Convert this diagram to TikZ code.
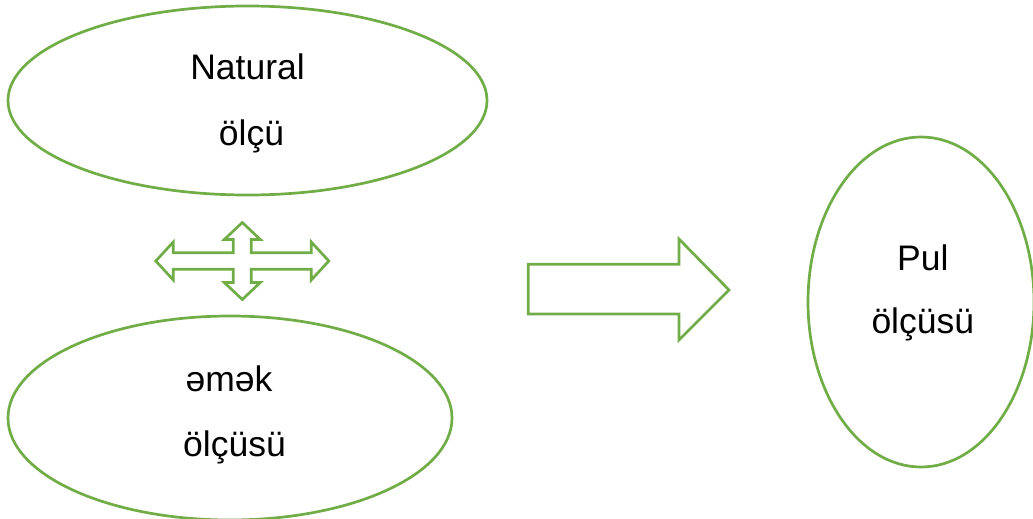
\documentclass[tikz,border=0pt]{standalone}
\usepackage{fontspec}
\setmainfont{Liberation Sans}
\usetikzlibrary{shapes.geometric}
\definecolor{grn}{HTML}{70AD47}
\begin{document}
\begin{tikzpicture}[x=1pt,y=-1pt,
  oval/.style={draw=grn, line width=2.7pt, ellipse, inner sep=0pt},
  lbl/.style={anchor=base, inner sep=0pt, font=\fontsize{35.5}{40}\selectfont},
  blockarrow/.style={draw=grn, line width=2.7pt, line join=miter}]
\useasboundingbox (0,0) rectangle (1033,519);
% ellipses
\node[oval, minimum width=479pt, minimum height=189pt] (nat) at (247.5,100.5) {};
\node[oval, minimum width=444pt, minimum height=204pt] (emek) at (230,418) {};
\node[oval, minimum width=226pt, minimum height=330pt] (pul) at (921,302) {};
% labels
\node[lbl] (t1) at (247.5,79.3) {Natural};
\node[lbl] (t2) at (251.5,145) {ölçü};
\node[lbl] (t3) at (229,391) {əmək};
\node[lbl] (t4) at (234.5,456) {ölçüsü};
\node[lbl] (t5) at (922.8,270) {Pul};
\node[lbl] (t6) at (922.8,333.3) {ölçüsü};
% four-way block arrow
\draw[blockarrow, shift={(242.3,261)}]
  (-86.5,0) -- (-69,-19) -- (-69,-8.3) -- (-9,-8.3) -- (-9,-21.5) -- (-18,-21.5)
  -- (0,-38.5) -- (18,-21.5) -- (9,-21.5) -- (9,-8.3) -- (69,-8.3) -- (69,-19)
  -- (86.5,0) -- (69,19) -- (69,8.3) -- (9,8.3) -- (9,21.5) -- (18,21.5)
  -- (0,38.5) -- (-18,21.5) -- (-9,21.5) -- (-9,8.3) -- (-69,8.3) -- (-69,19) -- cycle;
% right block arrow
\draw[blockarrow] (528.3,264.3) -- (679,264.3) -- (679,239) -- (729,290)
  -- (679,340) -- (679,314) -- (528.3,314) -- cycle;
\end{tikzpicture}
\end{document}
